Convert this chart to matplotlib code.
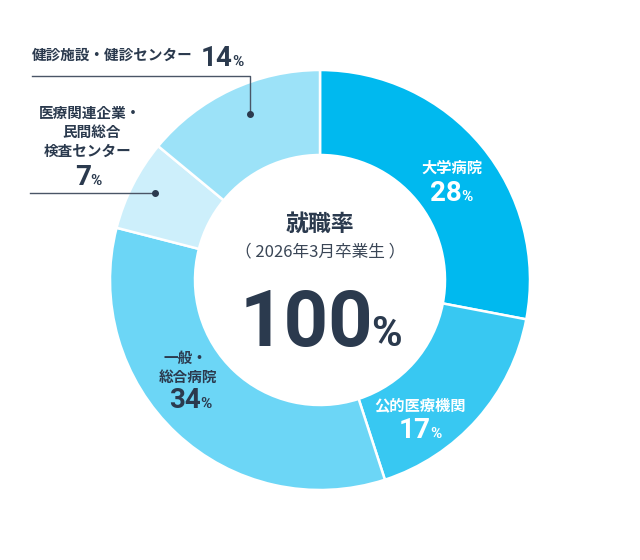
import matplotlib.pyplot as plt

plt.rcParams['font.family'] = ['Noto Sans CJK JP', 'DejaVu Sans']

# data
labels = ["大学病院", "公的医療機関", "一般・総合病院", "医療関連企業・民間総合検査センター", "健診施設・健診センター"]
shares = [28, 17, 34, 7, 14]
colors = ["#00b9ef", "#38c8f2", "#6cd6f6", "#cdeffb", "#9ce2f8"]
total_label = "100"

navy = "#2b3a4e"
H = 560  # pixel height, used to flip y

fig = plt.figure(figsize=(6.4, 5.6), dpi=100)
ax = fig.add_axes([0, 0, 1, 1])

ax.pie(shares, colors=colors, startangle=90, counterclock=False,
       radius=210, center=(320, H - 280),
       wedgeprops=dict(width=85, edgecolor="white", linewidth=1.8))
ax.set_xlim(0, 640)
ax.set_ylim(0, H)
ax.set_aspect("equal")
ax.axis("off")


def jp(x, y, s, color=navy, size=10.5, ha="center", weight="bold"):
    ax.text(x, H - y, s, color=color, fontsize=size, ha=ha, va="center",
            fontweight=weight)


def pct(xsplit, ybase, num, color=navy, size=20, psize=11, gap=-1):
    ax.text(xsplit, H - ybase, num, color=color, fontsize=size, ha="right",
            va="baseline", fontweight="bold", family=["Roboto", "DejaVu Sans"])
    ax.text(xsplit + gap, H - ybase, "%", color=color, fontsize=psize, ha="left",
            va="baseline", fontweight="bold", family=["Roboto", "DejaVu Sans"])


# center
jp(320, 224, "就職率", size=16.5)
jp(320, 252, "（ 2026年3月卒業生 ）", size=12, weight="normal", color="#3a4656")
pct(373, 346, total_label, size=56, psize=30, gap=-2)

# labels inside the ring
jp(452, 168, "大学病院", color="white", size=11)
pct(462, 201, str(shares[0]), color="white")
jp(420, 405, "公的医療機関", color="white", size=11)
pct(431, 438, str(shares[1]), color="white")
jp(185, 358, "一般・")
jp(188, 377, "総合病院")
pct(201, 408, str(shares[2]))

# outside labels with leader lines
jp(90, 113, "医療関連企業・")
jp(92, 132, "民間総合")
jp(88, 151, "検査センター")
pct(91, 185, str(shares[3]))
ax.plot([30, 155], [H - 193, H - 193], color="#4a5566", lw=1)
ax.plot([155], [H - 193], "o", color="#2b3a4e", ms=4)

jp(32, 55, "健診施設・健診センター", ha="left")
pct(233, 66, str(shares[4]))
ax.plot([32, 250, 250], [H - 76, H - 76, H - 114], color="#4a5566", lw=1)
ax.plot([250], [H - 114], "o", color="#2b3a4e", ms=4)

fig.savefig("out.png", dpi=100)
